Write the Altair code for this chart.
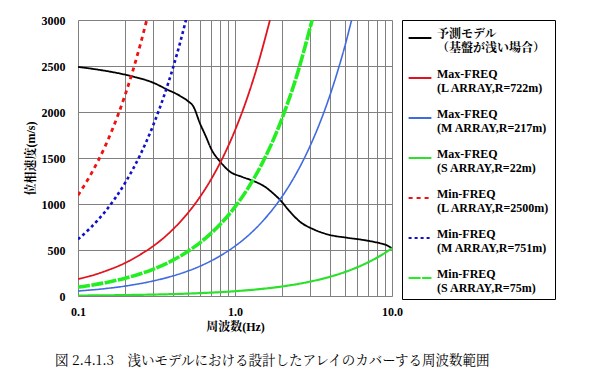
import altair as alt
import pandas as pd

# ---- data ----
names = [
    "予測モデル|（基盤が浅い場合）",
    "Max-FREQ|(L ARRAY,R=722m)",
    "Max-FREQ|(M ARRAY,R=217m)",
    "Max-FREQ|(S ARRAY,R=22m)",
    "Min-FREQ|(L ARRAY,R=2500m)",
    "Min-FREQ|(M ARRAY,R=751m)",
    "Min-FREQ|(S ARRAY,R=75m)",
]
colors = ["#000000", "#E0141E", "#3F6AE0", "#2EE02E", "#F01010", "#1010C8", "#22EE22"]
dashes = [[1, 0], [1, 0], [1, 0], [1, 0], [4, 4], [3, 3], [12, 1.5]]
widths = [1.8, 1.8, 1.6, 2.2, 2.8, 2.6, 3.6]

model_f = [0.1, 0.138, 0.204, 0.225, 0.30, 0.367, 0.447, 0.50, 0.544, 0.598, 0.65, 0.711,
           0.80, 0.93, 1.10, 1.31, 1.55, 1.75, 1.94, 2.24, 2.59, 3.16, 4.03, 5.14, 6.56,
           8.4, 9.2, 10.0]
model_v = [2490, 2457, 2402, 2384, 2320, 2247, 2175, 2120, 2058, 1877, 1740, 1587,
           1465, 1351, 1297, 1250, 1188, 1116, 1043, 916, 808, 725, 663, 634, 609,
           573, 554, 518]

maxL_f = [0.1, 0.12, 0.15, 0.2, 0.25, 0.3, 0.4, 0.5, 0.6, 0.7, 0.8, 1.0, 1.2, 1.4, 1.67]
maxL_v = [185, 218, 272, 360, 452, 540, 720, 900, 1080, 1260, 1440, 1800, 2160, 2520, 3000]

maxM_f = [0.1, 0.15, 0.2, 0.3, 0.4, 0.5, 0.6, 0.8, 1.0, 1.2, 1.5, 2.0, 2.5, 3.0, 3.5,
          4.0, 4.5, 5.0, 5.53]
maxM_v = [54, 81, 108, 163, 217, 271, 325, 434, 542, 650, 813, 1084, 1355, 1626, 1897,
          2168, 2440, 2710, 3000]

maxS_f = [0.1, 0.2, 0.5, 1.0, 1.5, 2.0, 3.0, 4.0, 5.0, 6.0, 7.0, 8.0, 9.0, 10.0]
maxS_v = [5, 10, 26, 52, 78, 104, 156, 208, 260, 312, 364, 416, 468, 520]

minL_f = [0.1, 0.12, 0.15, 0.18, 0.2, 0.22, 0.25, 0.274]
minL_v = [1095, 1314, 1640, 1970, 2190, 2410, 2740, 3000]

minM_f = [0.1, 0.12, 0.15, 0.2, 0.25, 0.3, 0.35, 0.4, 0.45, 0.487]
minM_v = [616, 740, 924, 1232, 1540, 1848, 2156, 2464, 2772, 3000]

minS_f = [0.1, 0.12, 0.15, 0.2, 0.25, 0.3, 0.4, 0.5, 0.6, 0.7, 0.8, 1.0, 1.2, 1.5,
          2.0, 2.5, 3.1]
minS_v = [97, 116, 145, 194, 242, 290, 387, 484, 581, 678, 774, 968, 1162, 1452,
          1936, 2420, 3000]

series_f = [model_f, maxL_f, maxM_f, maxS_f, minL_f, minM_f, minS_f]
series_v = [model_v, maxL_v, maxM_v, maxS_v, minL_v, minM_v, minS_v]

x_grid = [0.1, 0.2, 0.3, 0.4, 0.5, 0.6, 0.7, 0.8, 0.9,
          1, 2, 3, 4, 5, 6, 7, 8, 9, 10]
y_ticks = [0, 500, 1000, 1500, 2000, 2500, 3000]

rows = []
for i, (n, fs, vs) in enumerate(zip(names, series_f, series_v)):
    for k, (f, v) in enumerate(zip(fs, vs)):
        rows.append({"series": n, "f": f, "v": v, "w": widths[i], "k": k})
df = pd.DataFrame(rows)

serif = "Liberation Serif"
serif_cjk = "Liberation Serif, Noto Serif CJK JP, Noto Sans CJK JP"

leg = alt.Legend(
    title=None, orient="none", legendX=324, legendY=0,
    symbolType="stroke", symbolSize=520, symbolStrokeWidth=2.2,
    labelFont=serif_cjk, labelFontWeight="bold", labelFontSize=12,
    labelExpr="split(datum.label, '|')", labelLimit=220, labelOffset=4,
    rowPadding=11, padding=5, strokeColor="#000000", fillColor="#FFFFFF",
    labelColor="#000000", labelBaseline="alphabetic",
)

chart = alt.Chart(df).mark_line(clip=True, interpolate="monotone").encode(
    x=alt.X("f:Q",
            scale=alt.Scale(type="log", domain=[0.1, 10], nice=False),
            axis=alt.Axis(values=x_grid, title="周波数(Hz)",
                          labelExpr="indexof([0.1, 1, 10], datum.value) >= 0 ? format(datum.value, '.1f') : ''",
                          labelOverlap=False, labelFlush=False, tickSize=0, labelPadding=10,
                          gridColor="#808080", gridOpacity=1, gridWidth=1, domain=False,
                          labelFont=serif, labelFontWeight="bold", labelFontSize=12,
                          titleFont=serif_cjk, titleFontWeight="bold", titleFontSize=12,
                          titlePadding=4, labelColor="#000", titleColor="#000")),
    y=alt.Y("v:Q",
            scale=alt.Scale(domain=[0, 3000], nice=False),
            axis=alt.Axis(values=y_ticks, format="d", title="位相速度(m/s)", tickSize=0,
                          labelPadding=13,
                          gridColor="#808080", gridOpacity=1, gridWidth=1, domain=False,
                          labelFont=serif, labelFontWeight="bold", labelFontSize=12,
                          titleFont=serif_cjk, titleFontWeight="bold", titleFontSize=12,
                          titlePadding=4, labelColor="#000", titleColor="#000")),
    color=alt.Color("series:N", scale=alt.Scale(domain=names, range=colors), legend=leg,
                    sort=names),
    strokeDash=alt.StrokeDash("series:N", scale=alt.Scale(domain=names, range=dashes),
                              legend=leg, sort=names),
    strokeWidth=alt.StrokeWidth("w:Q", scale=None),
    order=alt.Order("k:Q"),
).properties(
    width=314, height=276,
    title=alt.TitleParams(
        text="図 2.4.1.3　浅いモデルにおける設計したアレイのカバーする周波数範囲",
        orient="bottom", anchor="start", frame="group", dx=-23, offset=22,
        font="Noto Serif CJK JP, Noto Sans CJK JP", fontSize=13.5, fontWeight="normal",
        color="#000"),
    autosize=alt.AutoSizeParams(type="none"),
    padding={"left": 70, "top": 12, "right": 185, "bottom": 80},
).configure_view(
    stroke="#0000A0", strokeWidth=2.5
).configure(background="#FFFFFF")

chart.save("out.html", embed_options={"renderer": "svg", "actions": False})
